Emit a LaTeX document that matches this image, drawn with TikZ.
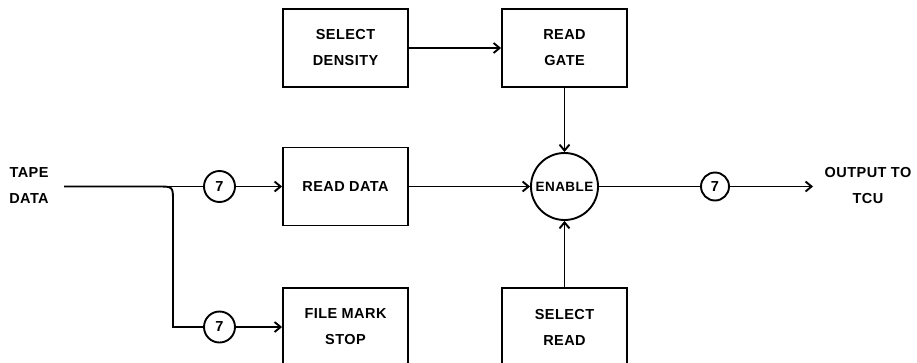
\documentclass[tikz,border=0pt]{standalone}
\usepackage{fontspec}
\setmainfont{Liberation Sans}[LetterSpace=3]
\usetikzlibrary{arrows.meta}
\tikzset{
  blk/.style={draw, line width=1.9pt, minimum width=125pt, minimum height=78pt,
    inner sep=0pt, align=center, font=\fontsize{14.5}{26}\selectfont\bfseries},
  cnt/.style={draw, circle, line width=1.9pt, minimum size=#1, inner sep=0pt,
    font=\fontsize{14.5}{17}\selectfont\bfseries},
  lbl/.style={align=center, inner sep=0pt, font=\fontsize{14.5}{26}\selectfont\bfseries},
  wire/.style={line width=1.9pt},
  arr/.style={wire, -{Straight Barb[length=6pt,width=10pt,line width=1.9pt]}}
}
\begin{document}
\begin{tikzpicture}[x=1pt,y=-1pt]
\useasboundingbox (0,0) rectangle (917,362);
\clip (0,0) rectangle (917,362);

% blocks
\node[blk] (sd) at (345.5,48) {SELECT\\DENSITY};
\node[blk] (rg) at (564.5,48) {READ\\GATE};
\node[blk] (rd) at (345.5,186.5) {READ DATA};
\node[blk] (fm) at (345.5,327) {FILE MARK\\STOP};
\node[blk] (sr) at (564.5,327) {SELECT\\READ};

% enable gate
\node[draw, circle, line width=1.9pt, minimum size=67pt, inner sep=0pt,
  font=\fontsize{13.5}{16}\selectfont\bfseries] (en) at (564.5,186.5) {ENABLE};

% line-count markers
\node[cnt=31pt] (c1) at (219.5,186.5) {7};
\node[cnt=31pt] (c2) at (219.5,327) {7};
\node[cnt=28pt] (c3) at (715,186.5) {7};

% terminal labels
\node[lbl] (tape) at (29,186) {TAPE\\DATA};
\node[lbl] (out) at (868,185.5) {OUTPUT TO\\TCU};

\coordinate (tin) at (64,186.5);
\coordinate (bend) at (173,186.5);
\coordinate (tip) at (813,186.5);

% tape data input and branch
\draw[wire] (tin) -- (c1);
\draw[arr] (c1) -- (rd);
\draw[wire] (tin) -- (158,186.5) .. controls (bend) .. (173,201.5) -- (bend |- c2) -- (c2);
\draw[arr] (c2) -- (fm);

% gating
\draw[arr] (sd) -- (rg);
\draw[arr] (rg) -- (en);
\draw[arr] (rd) -- (en);
\draw[arr] (sr) -- (en);

% output
\draw[wire] (en) -- (c3);
\draw[arr] (c3) -- (tip);
\end{tikzpicture}
\end{document}
